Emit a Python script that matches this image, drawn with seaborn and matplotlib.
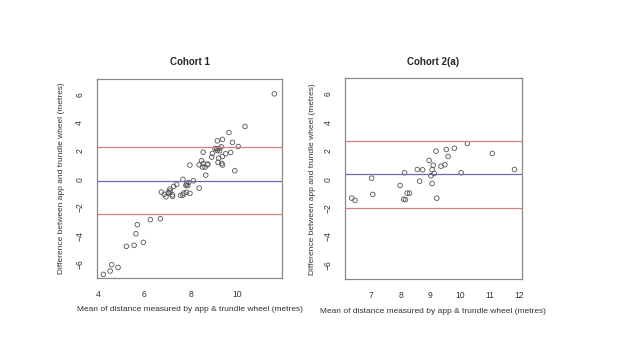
import numpy as np
import pandas as pd
import seaborn as sns
import matplotlib
matplotlib.use("Agg")
import matplotlib.pyplot as plt

# Cohort 1: mean distance vs difference (app - trundle wheel)
c1_mean = [11.59, 10.33, 9.64, 10.04, 9.79, 9.36, 9.14, 9.31, 9.21, 9.11, 9.04, 9.14, 9.24,
           8.93, 8.53, 8.90, 9.20, 9.36, 9.50, 9.71, 9.17, 9.33, 9.36, 8.46, 8.36, 8.53,
           8.61, 8.71, 8.50, 7.96, 8.64, 9.89, 8.73, 7.66, 8.11, 7.81, 7.87, 7.79, 7.90,
           8.36, 7.39, 7.26, 7.10, 7.03, 6.73, 6.86, 6.93, 7.07, 7.21, 7.56, 7.70, 7.81,
           7.96, 7.66, 7.11, 7.21, 6.69, 6.26, 5.70, 5.64, 5.96, 5.56, 5.23, 4.60, 4.87,
           4.53, 4.24]
c1_diff = [6.02, 3.72, 3.29, 2.30, 2.59, 2.80, 2.70, 2.28, 2.16, 2.14, 2.16, 2.02, 2.00,
           1.81, 1.90, 1.55, 1.48, 1.60, 1.79, 1.88, 1.18, 1.10, 0.99, 1.29, 1.01, 1.10,
           0.85, 1.01, 0.85, 0.99, 0.28, 0.59, 1.06, -0.02, -0.12, -0.35, -0.45, -0.45, -0.24,
           -0.64, -0.38, -0.52, -0.71, -0.94, -0.92, -1.08, -1.25, -0.99, -1.11, -1.15, -0.99, -0.94,
           -1.01, -1.13, -0.85, -1.22, -2.80, -2.87, -3.22, -3.86, -4.47, -4.68, -4.75, -6.05, -6.24,
           -6.49, -6.73]
c1_bias = -0.1
c1_limits = [2.3, -2.45]

# Cohort 2(a)
c2_mean = [6.35, 6.46, 7.02, 7.06, 7.98, 8.10, 8.16, 8.13, 8.22, 8.30, 8.56, 8.64, 8.74,
           8.96, 9.02, 9.06, 9.06, 9.10, 9.13, 9.19, 9.22, 9.36, 9.49, 9.54, 9.60, 9.81,
           10.04, 10.25, 11.09, 11.84]
c2_diff = [-1.31, -1.47, 0.09, -1.05, -0.42, -1.38, -1.42, 0.47, -0.96, -0.96, 0.70, -0.12, 0.68,
           1.33, 0.26, -0.28, 0.68, 1.00, 0.42, 1.98, -1.31, 0.93, 1.03, 2.10, 1.61, 2.19,
           0.47, 2.52, 1.82, 0.70]
c2_bias = 0.35
c2_limits = [2.7, -2.0]

titles = ["Cohort 1", "Cohort 2(a)"]
xlabel = "Mean of distance measured by app & trundle wheel (metres)"
ylabel = "Difference between app and trundle wheel (metres)"

sns.set_style("white")
plt.rcParams["font.family"] = ["Liberation Sans", "DejaVu Sans"]

fig = plt.figure(figsize=(6.4, 3.6), dpi=100)
ax1 = fig.add_axes([0.151, 0.228, 0.290, 0.553])
ax2 = fig.add_axes([0.539, 0.225, 0.276, 0.557])

panels = [
    (ax1, c1_mean, c1_diff, c1_bias, c1_limits, (3.95, 11.93), [4, 6, 8, 10], -0.187),
    (ax2, c2_mean, c2_diff, c2_bias, c2_limits, (6.12, 12.08), [7, 8, 9, 10, 11, 12], -0.181),
]

for i, (ax, xm, yd, bias, lims, xlim, xt, ylab_x) in enumerate(panels):
    df = pd.DataFrame({"mean": xm, "diff": yd})
    sns.scatterplot(data=df, x="mean", y="diff", ax=ax, marker="o",
                    facecolor="none", edgecolor="#555555", s=11, linewidth=0.6)
    for v in lims:
        ax.axhline(v, color="#d98080", lw=0.9)
    ax.axhline(bias, color="#6b6bb8", lw=0.9)
    ax.set_xlim(*xlim)
    ax.set_ylim(-6.98, 7.08)
    ax.set_xticks(xt)
    ax.set_yticks([-6, -4, -2, 0, 2, 4, 6])
    ax.tick_params(axis="both", direction="out", length=3, width=0.6,
                   colors="#555555", labelsize=6.2, labelcolor="#333333", pad=6)
    for lab in ax.get_yticklabels():
        lab.set_rotation(90)
        lab.set_va("center")
    for s in ax.spines.values():
        s.set_color("#888888")
        s.set_linewidth(0.9)
    ax.set_title(titles[i], fontsize=7, fontweight="bold", pad=10)
    ax.set_xlabel(xlabel, fontsize=6, color="#333333", va="center")
    ax.xaxis.set_label_coords(0.5, -0.16)
    ax.set_ylabel(ylabel, fontsize=6, color="#333333", va="center")
    ax.yaxis.set_label_coords(ylab_x, 0.5)

fig.savefig("out.png", dpi=100)
